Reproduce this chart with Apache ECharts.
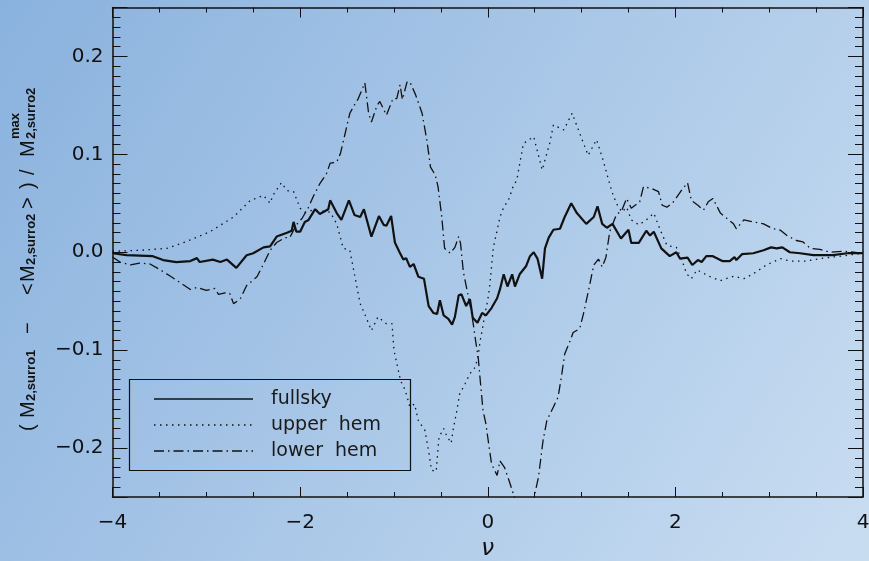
<!DOCTYPE html>
<html>
<head>
<meta charset="utf-8">
<script src="https://cdn.jsdelivr.net/npm/echarts@6.0.0/dist/echarts.min.js"></script>
<style>
  html, body { margin: 0; padding: 0; }
  #chart { width: 869px; height: 561px; }
</style>
</head>
<body>
<div id="chart"></div>
<script>
// nu values and normalised differences
const fullskyNu = [-4.00, -3.85, -3.57, -3.46, -3.32, -3.17, -3.10, -3.07, -2.93, -2.85, -2.78, -2.68, -2.57, -2.50, -2.39, -2.32, -2.25, -2.14, -2.09, -2.07, -2.04, -2.00, -1.95, -1.91, -1.84, -1.79, -1.70, -1.68, -1.61, -1.56, -1.48, -1.42, -1.36, -1.32, -1.24, -1.16, -1.11, -1.08, -1.03, -0.99, -0.94, -0.90, -0.87, -0.83, -0.79, -0.74, -0.68, -0.63, -0.58, -0.54, -0.51, -0.47, -0.42, -0.38, -0.35, -0.31, -0.28, -0.23, -0.19, -0.16, -0.11, -0.06, -0.02, 0.04, 0.10, 0.13, 0.17, 0.21, 0.26, 0.29, 0.34, 0.41, 0.45, 0.49, 0.53, 0.58, 0.61, 0.65, 0.70, 0.77, 0.82, 0.89, 0.95, 1.05, 1.13, 1.17, 1.22, 1.27, 1.33, 1.42, 1.50, 1.53, 1.61, 1.69, 1.73, 1.77, 1.85, 1.94, 2.01, 2.05, 2.13, 2.18, 2.24, 2.28, 2.33, 2.40, 2.50, 2.58, 2.63, 2.65, 2.71, 2.83, 2.94, 3.02, 3.08, 3.14, 3.22, 3.33, 3.47, 3.68, 3.83, 4.00];
const fullskyVal = [-0.001, -0.003, -0.004, -0.008, -0.010, -0.009, -0.006, -0.010, -0.0075, -0.010, -0.0075, -0.016, -0.003, -0.001, 0.005, 0.006, 0.016, 0.020, 0.022, 0.031, 0.021, 0.021, 0.031, 0.033, 0.044, 0.039, 0.044, 0.053, 0.040, 0.033, 0.053, 0.038, 0.036, 0.044, 0.016, 0.037, 0.028, 0.027, 0.037, 0.010, 0.000, -0.0075, -0.006, -0.015, -0.012, -0.025, -0.027, -0.055, -0.062, -0.063, -0.049, -0.0645, -0.068, -0.074, -0.066, -0.044, -0.043, -0.055, -0.048, -0.067, -0.072, -0.062, -0.0645, -0.057, -0.047, -0.038, -0.0225, -0.035, -0.0225, -0.035, -0.0225, -0.014, -0.004, 0.000, -0.0065, -0.027, 0.004, 0.015, 0.023, 0.024, 0.036, 0.050, 0.040, 0.029, 0.036, 0.047, 0.029, 0.025, 0.029, 0.014, 0.023, 0.0095, 0.0095, 0.022, 0.017, 0.021, 0.004, -0.004, 0.000, -0.0065, -0.0055, -0.013, -0.008, -0.010, -0.004, -0.004, -0.009, -0.009, -0.005, -0.008, -0.002, -0.001, 0.002, 0.005, 0.004, 0.005, 0.000, -0.001, -0.003, -0.003, -0.001, -0.001];

const upperNu = [-4.00, -3.71, -3.42, -3.21, -2.96, -2.71, -2.53, -2.39, -2.32, -2.29, -2.20, -2.14, -2.07, -2.00, -1.95, -1.86, -1.68, -1.61, -1.54, -1.47, -1.43, -1.36, -1.29, -1.24, -1.17, -1.08, -1.02, -1.00, -0.93, -0.88, -0.83, -0.78, -0.74, -0.67, -0.63, -0.60, -0.55, -0.52, -0.47, -0.44, -0.39, -0.37, -0.33, -0.30, -0.24, -0.19, -0.13, -0.10, -0.08, -0.06, -0.03, 0.00, 0.02, 0.04, 0.06, 0.10, 0.13, 0.17, 0.22, 0.27, 0.31, 0.38, 0.49, 0.58, 0.66, 0.70, 0.81, 0.90, 0.98, 1.07, 1.16, 1.23, 1.27, 1.32, 1.37, 1.43, 1.48, 1.53, 1.61, 1.69, 1.77, 1.84, 1.91, 2.01, 2.07, 2.12, 2.17, 2.23, 2.37, 2.48, 2.62, 2.73, 2.83, 2.97, 3.12, 3.22, 3.40, 3.54, 3.76, 4.00];
const upperVal = [0.001, 0.002, 0.004, 0.011, 0.021, 0.036, 0.053, 0.058, 0.050, 0.058, 0.071, 0.063, 0.062, 0.045, 0.041, 0.043, 0.041, 0.029, 0.004, 0.002, -0.018, -0.0525, -0.068, -0.080, -0.066, -0.073, -0.073, -0.100, -0.131, -0.141, -0.158, -0.155, -0.172, -0.182, -0.203, -0.2225, -0.224, -0.189, -0.180, -0.187, -0.195, -0.182, -0.162, -0.145, -0.134, -0.124, -0.117, -0.104, -0.090, -0.080, -0.063, -0.049, -0.0355, -0.015, 0.005, 0.0225, 0.036, 0.046, 0.053, 0.067, 0.074, 0.111, 0.118, 0.084, 0.111, 0.130, 0.125, 0.142, 0.1215, 0.099, 0.115, 0.094, 0.080, 0.063, 0.050, 0.041, 0.046, 0.033, 0.028, 0.033, 0.040, 0.0225, 0.007, 0.005, -0.008, -0.022, -0.027, -0.018, -0.025, -0.029, -0.0245, -0.027, -0.022, -0.013, -0.0065, -0.009, -0.009, -0.0065, -0.004, -0.001];

const lowerNu = [-4.00, -3.92, -3.81, -3.71, -3.60, -3.49, -3.39, -3.28, -3.17, -3.10, -3.00, -2.91, -2.87, -2.80, -2.75, -2.71, -2.64, -2.57, -2.46, -2.39, -2.32, -2.25, -2.16, -2.11, -2.04, -1.98, -1.91, -1.86, -1.79, -1.72, -1.68, -1.61, -1.57, -1.47, -1.43, -1.38, -1.31, -1.27, -1.24, -1.18, -1.15, -1.08, -1.01, -0.97, -0.935, -0.91, -0.86, -0.83, -0.77, -0.70, -0.65, -0.61, -0.56, -0.53, -0.49, -0.46, -0.40, -0.35, -0.31, -0.29, -0.26, -0.22, -0.17, -0.13, -0.10, -0.08, -0.05, -0.02, 0.00, 0.04, 0.10, 0.13, 0.18, 0.24, 0.29, 0.35, 0.42, 0.49, 0.54, 0.59, 0.63, 0.70, 0.75, 0.79, 0.82, 0.88, 0.91, 0.98, 1.02, 1.07, 1.13, 1.18, 1.22, 1.26, 1.30, 1.37, 1.43, 1.48, 1.53, 1.62, 1.66, 1.75, 1.82, 1.86, 1.91, 1.98, 2.07, 2.13, 2.17, 2.24, 2.30, 2.35, 2.40, 2.48, 2.55, 2.62, 2.65, 2.73, 2.83, 2.94, 3.04, 3.12, 3.19, 3.29, 3.36, 3.44, 3.54, 3.65, 3.79, 3.90, 4.00];
const lowerVal = [-0.005, -0.010, -0.013, -0.011, -0.012, -0.018, -0.024, -0.031, -0.038, -0.036, -0.039, -0.037, -0.043, -0.0415, -0.042, -0.0525, -0.048, -0.034, -0.025, -0.012, 0.002, 0.010, 0.015, 0.015, 0.028, 0.0345, 0.046, 0.057, 0.070, 0.080, 0.091, 0.092, 0.101, 0.142, 0.149, 0.157, 0.173, 0.142, 0.133, 0.150, 0.154, 0.140, 0.157, 0.157, 0.171, 0.156, 0.174, 0.174, 0.161, 0.142, 0.115, 0.087, 0.079, 0.067, 0.036, 0.004, -0.001, 0.005, 0.016, 0.009, -0.020, -0.039, -0.063, -0.090, -0.109, -0.131, -0.162, -0.175, -0.189, -0.216, -0.228, -0.213, -0.220, -0.237, -0.252, -0.268, -0.272, -0.252, -0.230, -0.192, -0.172, -0.158, -0.148, -0.124, -0.104, -0.090, -0.082, -0.078, -0.063, -0.041, -0.013, -0.007, -0.015, -0.005, 0.021, 0.038, 0.043, 0.055, 0.045, 0.0515, 0.067, 0.065, 0.062, 0.048, 0.046, 0.0515, 0.064, 0.071, 0.053, 0.048, 0.043, 0.0515, 0.055, 0.040, 0.0345, 0.029, 0.024, 0.033, 0.031, 0.029, 0.024, 0.0225, 0.017, 0.012, 0.0105, 0.004, 0.003, 0.000, 0.001, 0.000, -0.001];

const legendLabels = ["fullsky", "upper  hem", "lower  hem"];

const ink = "#111";
const solidStyle = { color: ink, width: 2.2, type: "solid" };
const dottedStyle = { color: ink, width: 1.3, type: [1.5, 4.5] };
const dashDotStyle = { color: ink, width: 1.3, type: [10, 4, 1.5, 4] };

const zip = (xs, ys) => xs.map((x, i) => [x, ys[i]]);

const minus = (s) => s.replace("-", "\u2212");
const nuFormat = (v) => minus(String(v));
const valFormat = (v) => {
  if (Math.abs(v * 10 - Math.round(v * 10)) > 1e-6) return "";
  return minus(v.toFixed(1));
};

const tickFont = { color: ink, fontSize: 20, fontFamily: "DejaVu Sans" };

function xAxisFor(position) {
  return {
    type: "value",
    position: position,
    min: -4,
    max: 4,
    interval: 2,
    axisLine: { show: true, onZero: false, lineStyle: { color: ink, width: 1.5 } },
    axisTick: { show: true, inside: true, length: 10, lineStyle: { color: ink, width: 1 } },
    minorTick: { show: true, splitNumber: 4, length: 5, lineStyle: { color: ink, width: 1 } },
    splitLine: { show: false },
    axisLabel: {
      show: position === "bottom",
      margin: 16,
      formatter: nuFormat,
      ...tickFont,
    },
  };
}

function yAxisFor(position) {
  return {
    type: "value",
    position: position,
    min: -0.25,
    max: 0.25,
    splitNumber: 5,
    axisLine: { show: true, onZero: false, lineStyle: { color: ink, width: 1.5 } },
    axisTick: { show: true, inside: true, length: 15, lineStyle: { color: ink, width: 1 } },
    minorTick: { show: true, splitNumber: 10, length: 8, lineStyle: { color: ink, width: 1 } },
    splitLine: { show: false },
    axisLabel: {
      show: position === "left",
      margin: 9,
      formatter: valFormat,
      ...tickFont,
    },
  };
}

// rotated y title, pieces placed along the axis (at = screen y where the piece starts)
const yTitleParts = [
  { text: "(", at: 431, x: 28.5, size: 20, sub: false },
  { text: "M", at: 418, x: 28.5, size: 20, sub: false },
  { text: "2,surro1", at: 401, x: 31.5, size: 13, sub: true },
  { text: "\u2212", at: 334, x: 28.5, size: 20, sub: false },
  { text: "<", at: 295, x: 28.5, size: 20, sub: false },
  { text: "M", at: 282, x: 28.5, size: 20, sub: false },
  { text: "2,surro2", at: 265, x: 31.5, size: 13, sub: true },
  { text: ">", at: 209, x: 28.5, size: 20, sub: false },
  { text: ")", at: 189, x: 28.5, size: 20, sub: false },
  { text: "/", at: 175, x: 28.5, size: 20, sub: false },
  { text: "M", at: 157, x: 28.5, size: 20, sub: false },
  { text: "max", at: 139, x: 15, size: 13, sub: true },
  { text: "2,surro2", at: 139, x: 31.5, size: 13, sub: true },
];

const yTitle = {
  type: "group",
  x: 0,
  y: 0,
  rotation: Math.PI / 2,
  children: yTitleParts.map((p) => ({
    type: "text",
    x: -p.at,
    y: p.x,
    style: {
      text: p.text,
      fill: ink,
      fontSize: p.size,
      fontFamily: "Liberation Sans",
      fontWeight: p.sub ? "bold" : "normal",
      align: "left",
      textAlign: "left",
      verticalAlign: "middle",
      textVerticalAlign: "middle",
    },
  })),
};

// legend box drawn by hand so the line patterns show
const legendRows = [
  { y: 399, style: solidStyle, width: 1.5 },
  { y: 425, style: dottedStyle, width: 1.3 },
  { y: 451, style: dashDotStyle, width: 1.3 },
];
const legendGraphic = [
  {
    type: "rect",
    shape: { x: 129.5, y: 379.5, width: 281, height: 91 },
    style: { fill: null, stroke: ink, lineWidth: 1.2 },
  },
];
legendRows.forEach((row, i) => {
  legendGraphic.push({
    type: "line",
    shape: { x1: 154, y1: row.y, x2: 253, y2: row.y },
    style: {
      stroke: ink,
      lineWidth: row.width,
      lineDash: row.style.type === "solid" ? null : row.style.type,
    },
  });
  legendGraphic.push({
    type: "text",
    x: 271,
    y: row.y,
    style: {
      text: legendLabels[i],
      fill: "#1a1a1a",
      fontSize: 19,
      fontFamily: "DejaVu Sans",
      align: "left",
      textAlign: "left",
      verticalAlign: "middle",
      textVerticalAlign: "middle",
    },
  });
});

const chart = echarts.init(document.getElementById("chart"), null, { renderer: "canvas" });

const option = {
  animation: false,
  backgroundColor: new echarts.graphic.LinearGradient(0, 0, 1, 1, [
    { offset: 0, color: "#8ab2de" },
    { offset: 1, color: "#c9ddf1" },
  ]),
  grid: {
    left: 112.5,
    top: 7.5,
    width: 750.5,
    height: 489.5,
    containLabel: false,
    outerBoundsMode: "none",
  },
  xAxis: [
    {
      ...xAxisFor("bottom"),
      name: "\u03bd",
      nameLocation: "middle",
      nameGap: 41,
      nameTextStyle: { color: ink, fontSize: 23, fontStyle: "italic", fontFamily: "DejaVu Sans" },
    },
    xAxisFor("top"),
  ],
  yAxis: [yAxisFor("left"), yAxisFor("right")],
  graphic: [yTitle, ...legendGraphic],
  series: [
    {
      name: "fullsky",
      type: "line",
      data: zip(fullskyNu, fullskyVal),
      showSymbol: false,
      clip: true,
      lineStyle: solidStyle,
    },
    {
      name: "upper hem",
      type: "line",
      data: zip(upperNu, upperVal),
      showSymbol: false,
      clip: true,
      lineStyle: dottedStyle,
    },
    {
      name: "lower hem",
      type: "line",
      data: zip(lowerNu, lowerVal),
      showSymbol: false,
      clip: true,
      lineStyle: dashDotStyle,
    },
  ],
};

chart.setOption(option);
</script>
</body>
</html>
